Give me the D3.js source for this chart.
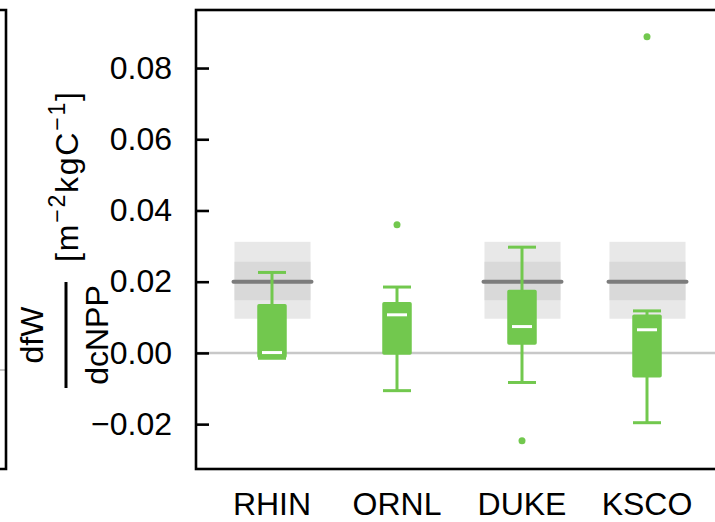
<!DOCTYPE html>
<html>
<head>
<meta charset="utf-8">
<script src="https://cdn.jsdelivr.net/npm/d3@7"></script>
<style>
html,body{margin:0;padding:0;background:#fff;}
svg{display:block;}
text{font-family:"Liberation Sans",Arial,Helvetica,sans-serif;}
</style>
</head>
<body>
<svg id="chart" width="715" height="522"></svg>
<script>
// ---- data ----
const categories = ["RHIN", "ORNL", "DUKE", "KSCO"];
const whiskerLow  = [-0.0015, -0.0106, -0.0083, -0.0196];
const q1          = [-0.0012, -0.0003,  0.0025, -0.0067];
const median      = [ 0.0001,  0.0107,  0.0074,  0.0065];
const q3          = [ 0.0135,  0.0141,  0.0175,  0.0106];
const whiskerHigh = [ 0.0226,  0.0185,  0.0297,  0.0118];
const outliers    = [[], [0.0360], [-0.0247], [0.0888]];
const refSites    = ["RHIN", "DUKE", "KSCO"];
const refMid      = [0.020, 0.020, 0.020];
const refInner    = [[0.0148, 0.0256], [0.0148, 0.0256], [0.0148, 0.0256]];
const refOuter    = [[0.0096, 0.0312], [0.0096, 0.0312], [0.0096, 0.0312]];
const yTicks      = [-0.02, 0.00, 0.02, 0.04, 0.06, 0.08];

(function () {
// ---- layout ----
const svg = d3.select("#chart");
const pLeft = 196, pTop = 10, pBottom = 469, pRight = 760;
const green = "#72c84e";

const x = d3.scaleLinear().domain([0.392, 4.9]).range([pLeft, pLeft + (4.9 - 0.392) * 125]);
const y = d3.scaleLinear().domain([-0.0326, 0.0963]).range([pBottom, pTop]);
const pos = c => categories.indexOf(c) + 1;

// left neighbouring panel fragment
svg.append("line").attr("x1", 0).attr("x2", 6).attr("y1", 370).attr("y2", 370)
  .attr("stroke", "#c8c8c8").attr("stroke-width", 2);
svg.append("path").attr("d", `M0,${pTop}H6V${pBottom}H0`)
  .attr("fill", "none").attr("stroke", "#000").attr("stroke-width", 2.6);

const g = svg.append("g");

// zero line
g.append("line").attr("x1", pLeft).attr("x2", 715).attr("y1", y(0)).attr("y2", y(0))
  .attr("stroke", "#c8c8c8").attr("stroke-width", 2.5);

// reference bands
refSites.forEach((s, i) => {
  const cx = x(pos(s)) + 0.5;
  g.append("rect").attr("x", cx - 38).attr("width", 76)
    .attr("y", y(refOuter[i][1])).attr("height", y(refOuter[i][0]) - y(refOuter[i][1]))
    .attr("fill", "#e8e8e8");
  g.append("rect").attr("x", cx - 38).attr("width", 76)
    .attr("y", y(refInner[i][1])).attr("height", y(refInner[i][0]) - y(refInner[i][1]))
    .attr("fill", "#d9d9d9");
  g.append("line").attr("x1", cx - 39).attr("x2", cx + 39)
    .attr("y1", y(refMid[i])).attr("y2", y(refMid[i]))
    .attr("stroke", "#7c7c7c").attr("stroke-width", 4).attr("stroke-linecap", "round");
});

// boxes
const bw = 28;
categories.forEach((c, i) => {
  const cx = x(pos(c));
  g.append("line").attr("x1", cx).attr("x2", cx).attr("y1", y(q3[i])).attr("y2", y(whiskerHigh[i]))
    .attr("stroke", green).attr("stroke-width", 3);
  g.append("line").attr("x1", cx).attr("x2", cx).attr("y1", y(q1[i])).attr("y2", y(whiskerLow[i]))
    .attr("stroke", green).attr("stroke-width", 3);
  [whiskerHigh[i], whiskerLow[i]].forEach(v => {
    g.append("line").attr("x1", cx - bw / 2).attr("x2", cx + bw / 2).attr("y1", y(v)).attr("y2", y(v))
      .attr("stroke", green).attr("stroke-width", 3);
  });
  g.append("rect").attr("x", cx - bw / 2).attr("width", bw)
    .attr("y", y(q3[i])).attr("height", y(q1[i]) - y(q3[i]))
    .attr("fill", green).attr("stroke", green).attr("stroke-width", 1.5).attr("rx", 1);
  g.append("line").attr("x1", cx - 10).attr("x2", cx + 10).attr("y1", y(median[i])).attr("y2", y(median[i]))
    .attr("stroke", "#fff").attr("stroke-width", 3);
  outliers[i].forEach(v => {
    g.append("circle").attr("cx", cx).attr("cy", y(v)).attr("r", 3.5).attr("fill", green);
  });
});

// frame
svg.append("rect").attr("x", pLeft).attr("y", pTop).attr("width", pRight - pLeft).attr("height", pBottom - pTop)
  .attr("fill", "none").attr("stroke", "#000").attr("stroke-width", 2.6);

// y axis
const yAxis = d3.axisLeft(y).tickValues(yTicks).tickSize(-13).tickPadding(24)
  .tickFormat(d => (d < 0 ? "\u2212" : "") + Math.abs(d).toFixed(2));
const ya = svg.append("g").attr("transform", `translate(${pLeft},0)`).call(yAxis);
ya.select(".domain").remove();
ya.selectAll(".tick line").attr("stroke", "#000").attr("stroke-width", 2.6);
ya.selectAll(".tick text").attr("font-size", 32).attr("fill", "#000")
  .attr("font-family", "'Liberation Sans', Arial, sans-serif");

// x labels
const xa = svg.append("g");
categories.forEach(c => {
  xa.append("text").attr("x", x(pos(c))).attr("y", 515).attr("text-anchor", "middle")
    .attr("font-size", 32).attr("fill", "#000").text(c);
});

// y label (fraction + units)
svg.append("text").attr("transform", "translate(43,335) rotate(-90)").attr("text-anchor", "middle")
  .attr("font-size", 32).text("dfW");
svg.append("line").attr("x1", 66).attr("x2", 66).attr("y1", 282).attr("y2", 388)
  .attr("stroke", "#000").attr("stroke-width", 3);
svg.append("text").attr("transform", "translate(108,335) rotate(-90)").attr("text-anchor", "middle")
  .attr("font-size", 32).text("dcNPP");
const u = svg.append("text").attr("transform", "translate(78,177) rotate(-90)").attr("text-anchor", "middle")
  .attr("font-size", 32).attr("textLength", 170).attr("lengthAdjust", "spacing");
u.append("tspan").text("[m");
u.append("tspan").attr("font-size", 23).attr("dy", -13).text("\u22122");
u.append("tspan").attr("dy", 13).text("kgC");
u.append("tspan").attr("font-size", 23).attr("dy", -13).text("\u22121");
u.append("tspan").attr("dy", 13).text("]");
})();
</script>
</body>
</html>
